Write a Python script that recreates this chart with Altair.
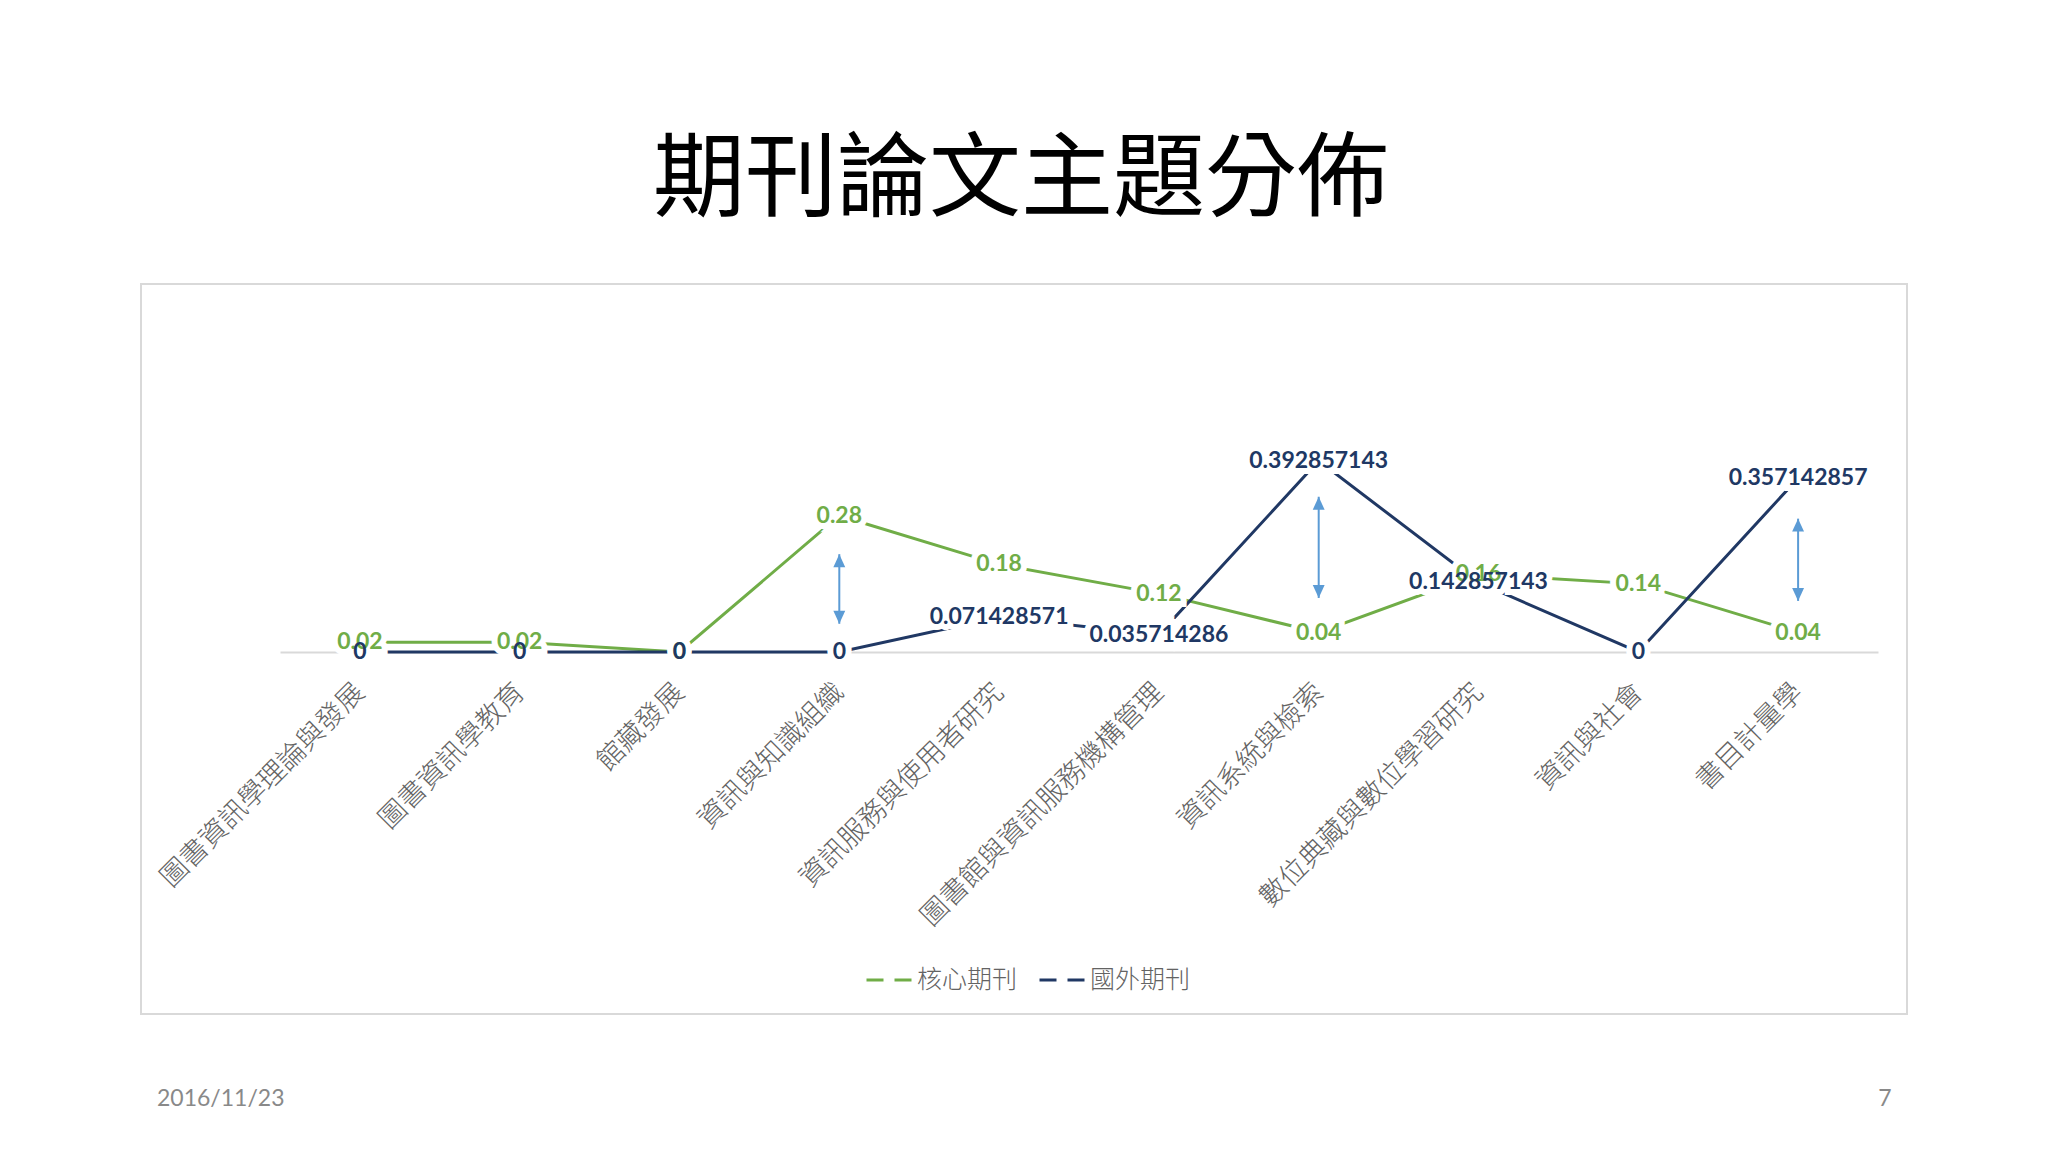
import altair as alt
import pandas as pd

categories = ["圖書資訊學理論與發展", "圖書資訊學教育", "館藏發展", "資訊與知識組織",
              "資訊服務與使用者研究", "圖書館與資訊服務機構管理", "資訊系統與檢索",
              "數位典藏與數位學習研究", "資訊與社會", "書目計量學"]
core = [0.02, 0.02, 0, 0.28, 0.18, 0.12, 0.04, 0.16, 0.14, 0.04]
foreign = [0, 0, 0, 0, 0.071428571, 0.035714286, 0.392857143, 0.142857143, 0, 0.357142857]
core_labels = ["0.02", "0.02", "0", "0.28", "0.18", "0.12", "0.04", "0.16", "0.14", "0.04"]
foreign_labels = ["0", "0", "0", "0", "0.071428571", "0.035714286", "0.392857143",
                  "0.142857143", "0", "0.357142857"]
series_names = ["核心期刊", "國外期刊"]
series_colors = ["#70AD47", "#203864"]

arrow_cats = ["資訊與知識組織", "資訊系統與檢索", "書目計量學"]
arrow_top = [0.201, 0.319, 0.274]
arrow_bottom = [0.058, 0.111, 0.105]

title_text = "期刊論文主題分佈"
date_text = "2016/11/23"
page_text = "7"

rows = []
for c, v, l in zip(categories, core, core_labels):
    rows.append({"cat": c, "series": series_names[0], "value": v, "label": l})
for c, v, l in zip(categories, foreign, foreign_labels):
    rows.append({"cat": c, "series": series_names[1], "value": v, "label": l})
df = pd.DataFrame(rows)
arrows = pd.DataFrame({"cat": arrow_cats, "top": arrow_top, "bottom": arrow_bottom})

W, H = 1598, 219

xscale = alt.Scale(type="point", padding=0.5)
yscale = alt.Scale(domain=[0, 0.45])
xaxis = alt.Axis(title=None, ticks=False, domain=True, domainColor="#d9d9d9",
                 domainWidth=2, labelAngle=315, labelAlign="right",
                 labelBaseline="middle", labelPadding=36, labelFontSize=27.5,
                 labelFont="Noto Sans CJK TC", labelFontWeight=300,
                 labelColor="#636363", labelLimit=1000, labelOverlap=False,
                 grid=False)

xenc = alt.X("cat:N", sort=categories, scale=xscale, axis=xaxis)
yenc = alt.Y("value:Q", scale=yscale, axis=None)
color = alt.Color("series:N",
                  scale=alt.Scale(domain=series_names, range=series_colors),
                  legend=alt.Legend(title=None, orient="none", legendX=585, legendY=523,
                                    direction="horizontal", symbolType="stroke",
                                    symbolSize=2025, symbolStrokeWidth=3,
                                    symbolDash=[17, 11],
                                    labelFontSize=25,
                                    labelFont="Noto Sans CJK TC", labelFontWeight=300,
                                    labelColor="#636363", labelOffset=4,
                                    columnPadding=15, padding=0))

base = alt.Chart(df)
line_core = base.transform_filter(alt.datum.series == series_names[0]).mark_line(
    strokeWidth=3).encode(x=xenc, y=yenc, color=color)
line_for = base.transform_filter(alt.datum.series == series_names[1]).mark_line(
    strokeWidth=3).encode(x=xenc, y=yenc, color=color)
halo = base.mark_text(font="Lato", fontSize=23, fontWeight="bold", stroke="white",
                      strokeWidth=12, fill="white",
                      align="center", baseline="middle").encode(
    x=xenc, y=yenc, text="label:N")
labels = base.mark_text(font="Lato", fontSize=23, fontWeight="bold",
                        align="center", baseline="middle").encode(
    x=xenc, y=yenc, text="label:N", color=color)

arrow_rule = alt.Chart(arrows).mark_rule(color="#5B9BD5", strokeWidth=2).encode(
    x=xenc, y=alt.Y("top:Q", scale=yscale, axis=None), y2="bottom:Q")
head_up = alt.Chart(arrows).mark_point(
    shape="M0,0L0.85,1.85L-0.85,1.85Z", filled=True, color="#5B9BD5", size=196,
    opacity=1).encode(
    x=xenc, y=alt.Y("top:Q", scale=yscale, axis=None))
head_down = alt.Chart(arrows).mark_point(
    shape="M0,0L0.85,-1.85L-0.85,-1.85Z", filled=True, color="#5B9BD5", size=196,
    opacity=1).encode(
    x=xenc, y=alt.Y("bottom:Q", scale=yscale, axis=None))

one = pd.DataFrame({"k": [0]})
border = alt.Chart(one).mark_rect(filled=False, stroke="#d9d9d9", strokeWidth=2).encode(
    x=alt.value(-139), x2=alt.value(1627), y=alt.value(-149), y2=alt.value(581))
title = alt.Chart(one).mark_text(font="Noto Sans CJK TC", fontSize=92, color="#000000",
                                 align="center", baseline="middle").encode(
    x=alt.value(741), y=alt.value(-252), text=alt.value(title_text))
date = alt.Chart(one).mark_text(font="Lato", fontSize=23, color="#898989",
                                align="left", baseline="middle").encode(
    x=alt.value(-123), y=alt.value(666), text=alt.value(date_text))
page = alt.Chart(one).mark_text(font="Lato", fontSize=23, color="#898989",
                                align="center", baseline="middle").encode(
    x=alt.value(1605), y=alt.value(666), text=alt.value(page_text))

chart = alt.layer(border, title, date, page, line_core, line_for, arrow_rule,
                  head_up, head_down, halo, labels).properties(
    width=W, height=H,
    autosize=alt.AutoSizeParams(type="none"),
    padding={"left": 272, "top": 425, "right": 162, "bottom": 492},
    background="white",
).configure_view(strokeWidth=0)

chart.save("out.html", embed_options={"renderer": "svg", "actions": False})
